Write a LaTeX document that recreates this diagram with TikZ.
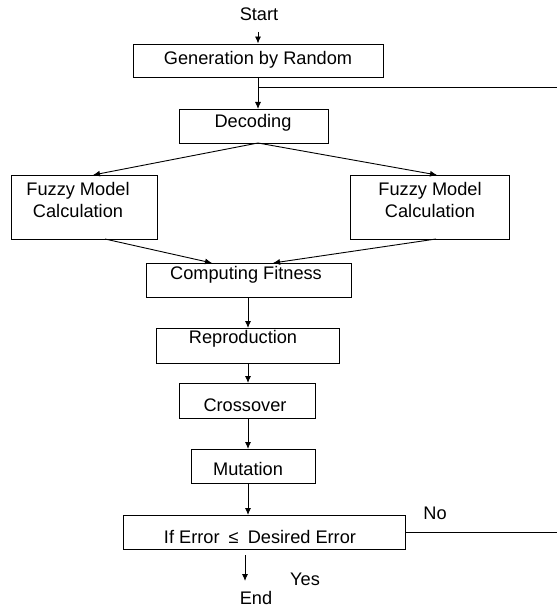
\documentclass[tikz,border=0pt]{standalone}
\usepackage{fontspec}
\setmainfont{Liberation Sans}
\usetikzlibrary{arrows.meta}
\begin{document}
\begin{tikzpicture}[x=1pt,y=-1pt,
  every node/.style={font=\fontsize{18.2}{21.5}\selectfont},
  box/.style={draw,line width=0.9pt,inner sep=0pt},
  txt/.style={inner sep=0pt,align=center},
  line/.style={line width=0.9pt},
  arr/.style={line width=0.9pt,-{Latex[length=7pt,width=6pt]}}]
\useasboundingbox (0,0) rectangle (557,609);

% boxes (drawn empty, text placed on top)
\node[box,minimum width=250pt,minimum height=33pt] (gen) at (258,60.5) {};
\node[box,minimum width=149pt,minimum height=34pt] (dec) at (253.5,126) {};
\node[box,minimum width=146pt,minimum height=64pt] (fl) at (84,207) {};
\node[box,minimum width=159pt,minimum height=64pt] (fr) at (429.5,207) {};
\node[box,minimum width=205pt,minimum height=34pt] (cf) at (248.5,280) {};
\node[box,minimum width=183pt,minimum height=35pt] (rep) at (247.5,345.5) {};
\node[box,minimum width=136pt,minimum height=35pt] (cro) at (247,400.5) {};
\node[box,minimum width=124pt,minimum height=34pt] (mut) at (253,466) {};
\node[box,minimum width=282pt,minimum height=34pt] (err) at (264,532) {};

% texts
\node[txt] (tstart) at (259,14) {Start};
\node[txt] (tgen) at (258,60) {Generation by Random};
\node[txt] (tdec) at (253,123) {Decoding};
\node[txt] (tfl) at (78,200) {Fuzzy Model\\Calculation};
\node[txt] (tfr) at (430,200) {Fuzzy Model\\Calculation};
\node[txt] (tcf) at (246,275) {Computing Fitness};
\node[txt] (trep) at (243,339) {Reproduction};
\node[txt] (tcro) at (245,405) {Crossover};
\node[txt] (tmut) at (248,469) {Mutation};
\node[txt] (terr) at (260,537) {If Error\enspace≤\enspace Desired Error};
\node[txt] (tno) at (435,513) {No};
\node[txt] (tyes) at (305,579) {Yes};
\node[txt] (tend) at (256,598) {End};

% connector ends
\coordinate (s1) at (258,32);
\coordinate (gb) at (258,77);
\coordinate (br) at (258,87);
\coordinate (brE) at (557,87);
\coordinate (dt) at (258,109);
\coordinate (db) at (258,143);
\coordinate (flt) at (93,175);
\coordinate (frt) at (437,175);
\coordinate (flb) at (105,239);
\coordinate (frb) at (436,239);
\coordinate (cfl) at (212,263);
\coordinate (cfr) at (273,263);
\coordinate (cfb) at (248,297);
\coordinate (rt) at (248,328);
\coordinate (rb) at (248,363);
\coordinate (ct) at (248,383);
\coordinate (cb) at (248,418);
\coordinate (mt) at (248,449);
\coordinate (mb) at (248,483);
\coordinate (et) at (248,515);
\coordinate (er) at (405,532);
\coordinate (erE) at (557,532);
\coordinate (y1) at (245,555);
\coordinate (y2) at (245,581);

% connectors
\draw[arr] (s1) -- (gen.north -| s1);
\draw[arr] (gb) -- (dt);
\draw[line] (br) -- (brE);
\draw[arr] (db) -- (flt);
\draw[arr] (db) -- (frt);
\draw[arr] (flb) -- (cfl);
\draw[arr] (frb) -- (cfr);
\draw[arr] (cfb) -- (rt);
\draw[arr] (rb) -- (ct);
\draw[arr] (cb) -- (mt);
\draw[arr] (mb) -- (et);
\draw[line] (er) -- (erE);
\draw[arr] (y1) -- (y2);
\end{tikzpicture}
\end{document}
